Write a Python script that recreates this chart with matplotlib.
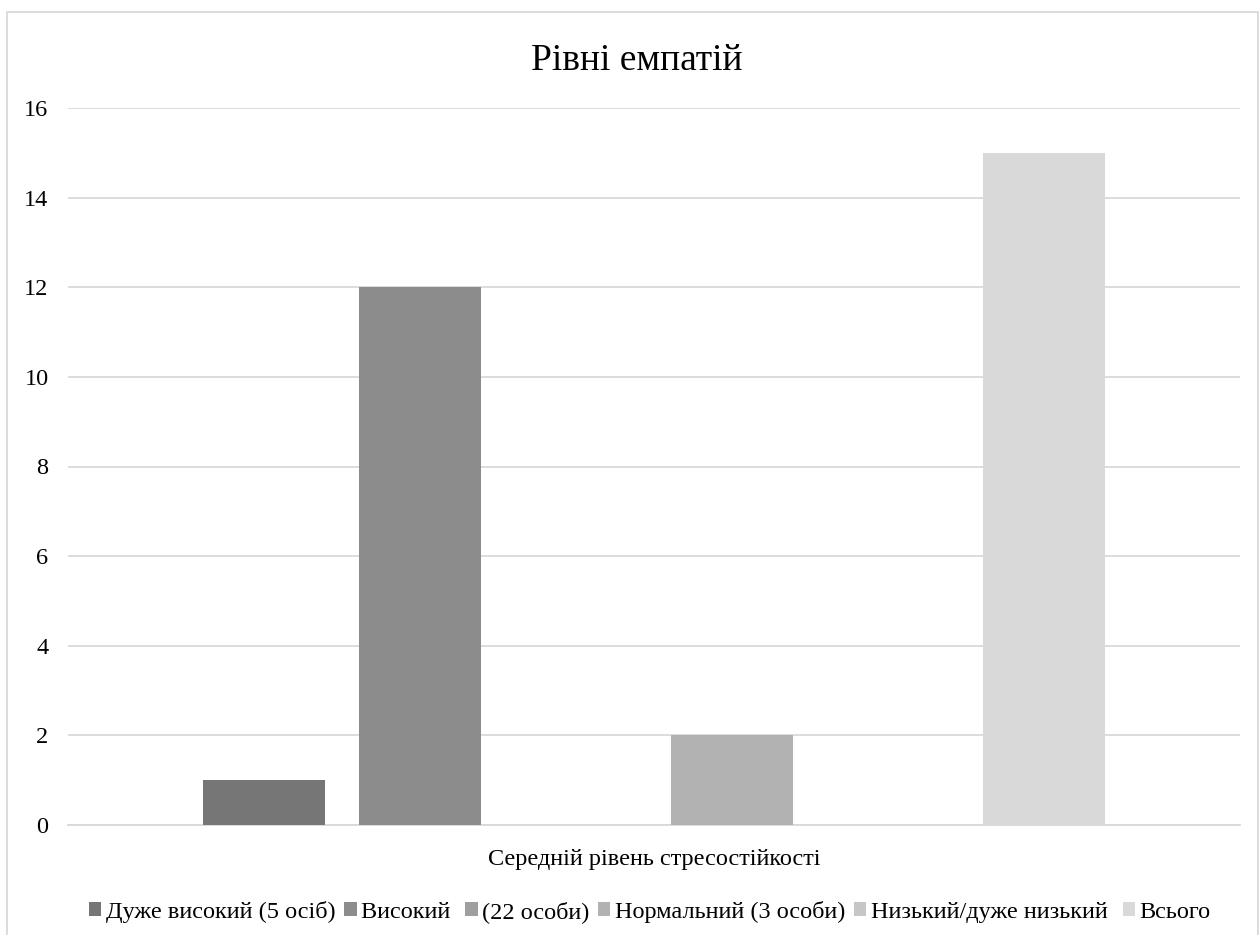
import numpy as np
import matplotlib.pyplot as plt
from matplotlib.patches import Rectangle

plt.rcParams['font.family'] = ['Liberation Serif', 'DejaVu Serif']

category = 'Середній рівень стресостійкості'
series_names = ['Дуже високий (5 осіб)', 'Високий ', '(22 особи)',
                'Нормальний (3 особи)', 'Низький/дуже низький ', 'Всього']
values = [1, 12, 0, 2, 0, 15]
colors = ['#767676', '#8c8c8c', '#9f9f9f', '#b2b2b2', '#c6c6c6', '#d9d9d9']

fig = plt.figure(figsize=(12.59, 9.35), dpi=100)
ax = fig.add_axes([68 / 1259, 1 - 825 / 935, (1240 - 68) / 1259, (825 - 108) / 935])

n = len(values)
slot = 0.7986 / n
bar_w = slot * 122 / 156
offsets = (np.arange(n) - (n - 1) / 2) * slot
for off, v, c, name in zip(offsets, values, colors, series_names):
    ax.bar(off, v, width=bar_w, color=c, label=name, zorder=3)

ax.set_xlim(-0.5, 0.5)
ax.set_ylim(0, 16)
ax.set_yticks(range(0, 17, 2))
ax.tick_params(axis='y', length=0, labelsize=17.5, pad=14)
ax.set_xticks([])
ax.yaxis.grid(True, color='#d9d9d9', linewidth=1.3, zorder=0)
for s in ['top', 'right', 'left']:
    ax.spines[s].set_visible(False)
ax.spines['bottom'].set_color('#d9d9d9')
ax.spines['bottom'].set_linewidth(1.3)
ax.set_xlabel(category, fontsize=17.5, labelpad=17)

fig.text(637 / 1259, 1 - 61 / 935, 'Рівні емпатій', ha='center', va='center', fontsize=27)

fig.legend(loc='center', bbox_to_anchor=(650 / 1259, 1 - 912 / 935), ncol=n, frameon=False,
           fontsize=17.5, handlelength=0.5, handleheight=0.5, handletextpad=0.2,
           columnspacing=0.35)

fig.patches.append(Rectangle((7 / 1259, -0.01), (1258 - 7) / 1259, 1 - 12 / 935 + 0.01,
                             transform=fig.transFigure, fill=False,
                             edgecolor='#d9d9d9', linewidth=1.3))

fig.savefig('out.png', dpi=100)
